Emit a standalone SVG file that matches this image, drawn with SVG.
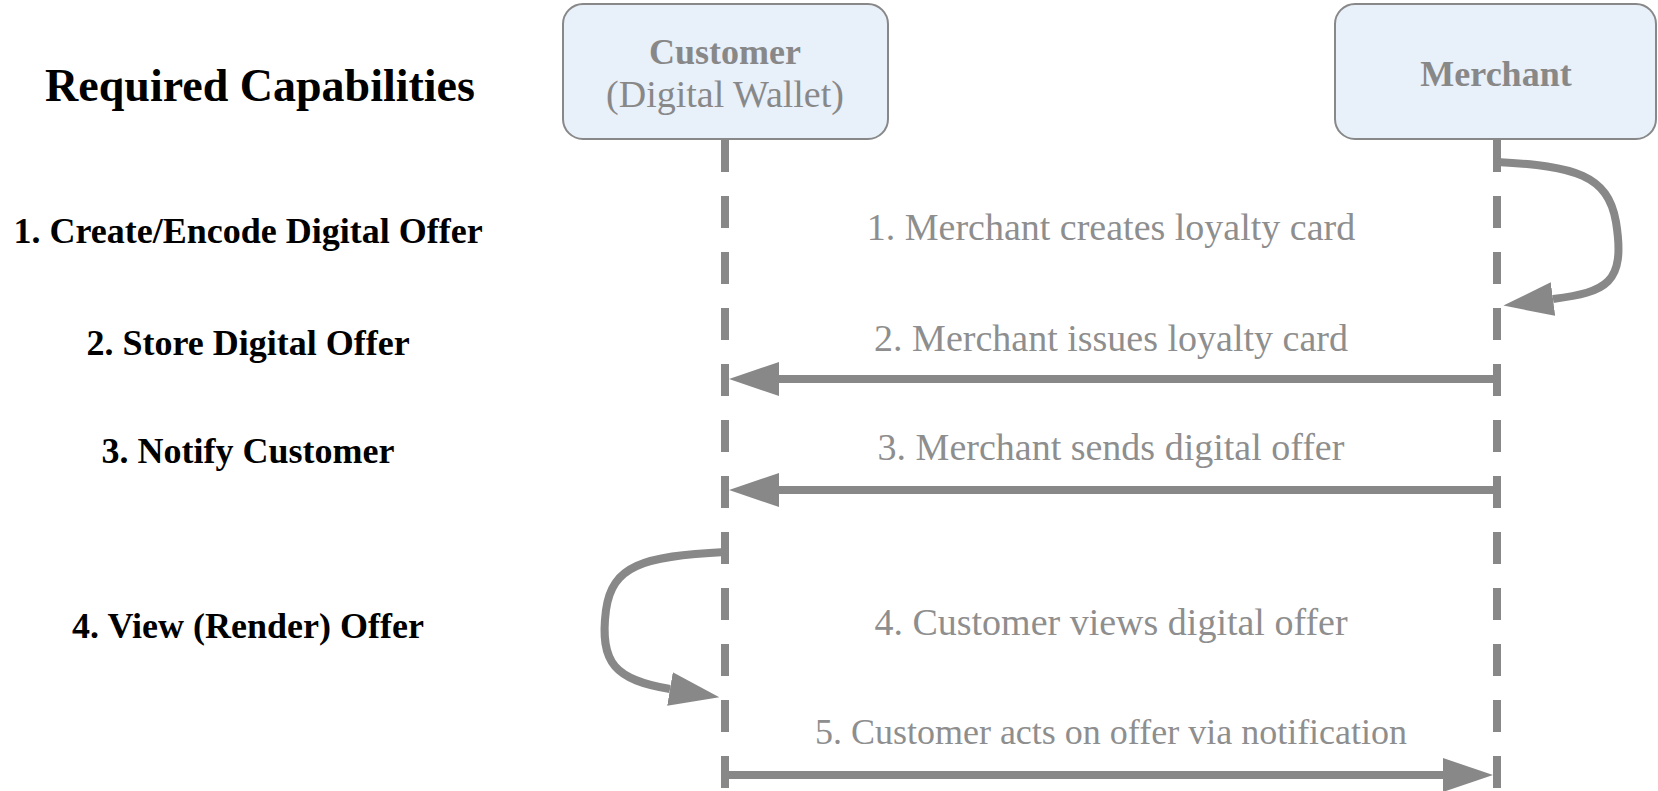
<svg xmlns="http://www.w3.org/2000/svg" width="1658" height="791" viewBox="0 0 1658 791">
<style>
.cap{font-family:"Liberation Serif","DejaVu Serif",serif;font-weight:bold;fill:#000;text-anchor:middle}
.box{fill:#e8f0fa;stroke:#888;stroke-width:2}
.nt{font-family:"Liberation Serif","DejaVu Serif",serif;fill:#888;text-anchor:middle}
.msg{font-family:"Liberation Serif","DejaVu Serif",serif;fill:#8e8e8e;text-anchor:middle}
.life{stroke:#888;stroke-width:8;stroke-dasharray:32 24;fill:none}
.arr{stroke:#888;stroke-width:8;fill:none;marker-end:url(#ah)}
</style>
<defs>
<marker id="ah" markerUnits="userSpaceOnUse" markerWidth="52" markerHeight="36" viewBox="0 -18 52 36" refX="0" refY="0" orient="auto">
<path d="M0,-17 L50,0 L0,17 z" fill="#888"/>
</marker>
</defs>
<rect width="1658" height="791" fill="#fff"/>
<g id="capabilities">
<text class="cap" x="260" y="101" font-size="46">Required Capabilities</text>
<text class="cap" x="248" y="243" font-size="36">1. Create/Encode Digital Offer</text>
<text class="cap" x="248" y="355" font-size="36">2. Store Digital Offer</text>
<text class="cap" x="248" y="463" font-size="36">3. Notify Customer</text>
<text class="cap" x="248" y="638" font-size="36">4. View (Render) Offer</text>
</g>
<g id="customer">
<rect class="box" x="563" y="4" width="325" height="135" rx="20"/>
<text class="nt" x="725" y="64" font-size="36" font-weight="bold">Customer</text>
<text class="nt" x="725" y="107" font-size="38">(Digital Wallet)</text>
</g>
<g id="merchant">
<rect class="box" x="1335" y="4" width="321" height="135" rx="20"/>
<text class="nt" x="1496" y="86" font-size="36" font-weight="bold">Merchant</text>
</g>
<g id="connectors">
<line class="life" x1="725" y1="140" x2="725" y2="791"/>
<line class="life" x1="1497" y1="140" x2="1497" y2="791"/>
<path class="arr" d="M1497,162 C1575,166 1608,175 1616,222 C1626,284 1606,292 1553,299"/>
<path class="arr" d="M1497,379 L779,379"/>
<path class="arr" d="M1497,490 L779,490"/>
<path class="arr" d="M725,552 C642,556 612,566 606,610 C599,664 616,680 670,689"/>
<path class="arr" d="M725,775 L1443,775"/>
</g>
<g id="labels">
<text class="msg" x="1111" y="240" font-size="38">1. Merchant creates loyalty card</text>
<text class="msg" x="1111" y="351" font-size="38">2. Merchant issues loyalty card</text>
<text class="msg" x="1111" y="460" font-size="38">3. Merchant sends digital offer</text>
<text class="msg" x="1111" y="635" font-size="38">4. Customer views digital offer</text>
<text class="msg" x="1111" y="744" font-size="36">5. Customer acts on offer via notification</text>
</g>
</svg>
